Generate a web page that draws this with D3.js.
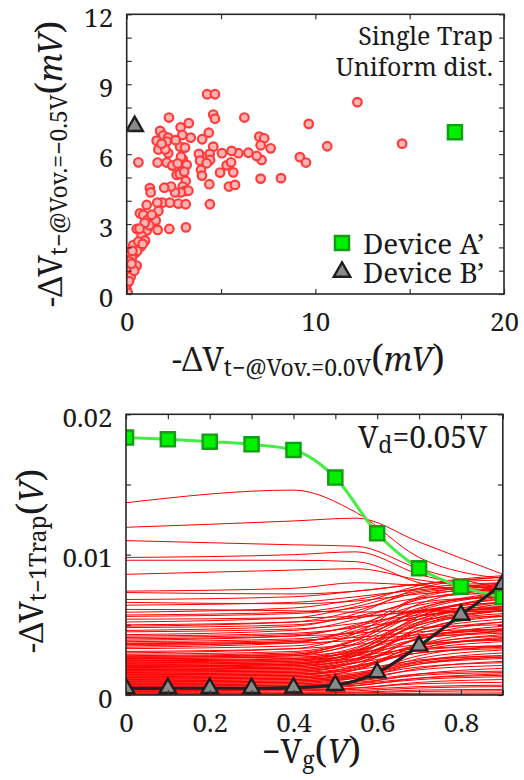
<!DOCTYPE html>
<html>
<head>
<meta charset="utf-8">
<script src="https://cdn.jsdelivr.net/npm/d3@7"></script>
<style>
html, body { margin: 0; padding: 0; background: #fff; }
svg { display: block; }
</style>
</head>
<body>
<svg id="fig" width="524" height="780"></svg>
<script>
// ---- top panel: scatter (mV) ----
const scatterX = [4.26, 4.68, 12.23, 2.24, 6.24, 4.59, 4.68, 9.65, 3.29, 2.86, 1.77, 1.94, 4.35, 4.00, 3.39, 2.95, 2.20, 2.12, 1.59, 1.68,
    2.20, 2.83, 3.09, 4.59, 7.03, 7.29, 7.10, 7.63, 10.63, 14.60, 9.18, 9.50, 7.15, 6.89, 6.45, 5.92, 5.56, 5.05, 4.40, 3.98,
    3.83, 3.89, 4.42, 4.24, 3.94, 3.99, 4.38, 4.41, 4.95, 5.30, 5.65, 5.53, 5.42, 5.74, 7.10, 8.18, 0.62, 1.64, 2.12, 2.42,
    2.65, 2.82, 2.92, 2.97, 2.88, 3.18, 3.05, 3.13, 2.97, 3.09, 3.27, 2.86, 2.56, 2.35, 1.99, 1.23, 1.27, 1.89, 2.29, 2.74,
    3.13, 1.62, 1.06, 1.68, 0.70, 0.88, 1.11, 1.41, 1.54, 0.53, 1.06, 1.64, 2.26, 3.14, 0.79, 0.97, 0.74, 0.35, 0.44, 0.27,
    0.53, 0.18, 0.09, 0.21, 0.05, 0.00, 0.05, 0.55, 0.30, 0.15, 0.62, 0.85, 1.20, 0.95, 0.40, 0.12, 0.25, 1.33, 0.68, 2.05,
    1.85, 2.60, 2.70];
const scatterY = [8.57, 8.57, 8.23, 7.57, 7.57, 7.70, 7.52, 7.30, 7.33, 7.15, 7.00, 6.80, 6.92, 6.64, 6.71, 6.82, 6.71, 6.54, 6.58, 6.20,
    6.04, 6.32, 6.28, 6.32, 6.75, 6.68, 6.38, 6.25, 6.34, 6.45, 5.87, 5.64, 5.75, 5.92, 6.06, 6.04, 6.14, 6.04, 6.01, 5.89,
    6.01, 5.72, 5.75, 5.61, 5.32, 5.08, 4.71, 3.85, 5.21, 5.52, 5.22, 5.65, 4.61, 4.68, 4.95, 4.97, 5.65, 5.64, 5.64, 5.51,
    5.11, 5.15, 5.47, 5.78, 5.89, 5.54, 5.25, 4.85, 4.61, 4.42, 4.43, 4.36, 4.36, 4.61, 4.56, 4.54, 4.36, 3.92, 3.92, 3.88,
    3.85, 3.92, 3.82, 3.56, 3.46, 3.39, 3.18, 3.25, 3.15, 2.79, 2.72, 2.75, 2.79, 2.86, 2.50, 2.29, 2.03, 2.10, 1.75, 1.53,
    1.22, 1.17, 0.96, 0.74, 0.46, 0.17, 0.06, 1.85, 1.85, 1.40, 2.25, 2.15, 2.95, 3.05, 1.00, 0.55, 1.30, 3.40, 2.80, 6.20,
    6.45, 6.60, 5.60];
const devicePointA = [17.4, 6.94];
const devicePointB = [0.42, 7.2];

// ---- bottom panel: delta Vt vs -Vg (V) ----
const vgValues = [0, 0.1, 0.2, 0.3, 0.4, 0.5, 0.6, 0.7, 0.8, 0.9];
const deviceCurveA = [0.01834, 0.01822, 0.01805, 0.01786, 0.01746, 0.01549, 0.01152, 0.00903, 0.00772, 0.00696];
const deviceCurveB = [0.00047, 0.00048, 0.00048, 0.00048, 0.00052, 0.0007, 0.0016, 0.0035, 0.0057, 0.0079];
const redGrid = [0, 0.4, 0.55, 0.7, 0.9]; // -Vg of each column below
const redCurves = [ // mV
    [13.7, 14.6, 13.0, 9.8, 8.3], [11.95, 12.4, 12.6, 10.9, 8.6], [11.0, 10.7, 10.6, 9.0, 7.6], [9.8, 10.0, 10.2, 8.6, 7.4],
    [9.6, 9.6, 9.5, 8.0, 7.0], [8.6, 8.9, 9.0, 8.2, 7.5], [7.4, 7.6, 8.0, 7.8, 7.3], [7.3, 7.2, 7.4, 7.9, 8.4],
    [6.8, 7.0, 7.4, 7.9, 8.2], [6.6, 6.5, 6.7, 7.2, 7.6], [6.4, 6.6, 7.0, 7.5, 7.9], [6.1, 6.0, 5.9, 6.0, 6.1],
    [5.9, 6.2, 6.8, 7.6, 8.0], [5.6, 5.8, 6.2, 6.9, 7.3], [5.4, 5.5, 5.6, 5.9, 6.0], [5.2, 5.5, 6.3, 7.4, 7.8],
    [5.0, 5.2, 5.5, 6.0, 6.3], [4.8, 5.0, 5.6, 6.6, 7.0], [4.5, 4.7, 5.1, 5.7, 6.0], [4.3, 4.6, 5.4, 6.8, 7.5],
    [4.2, 4.4, 4.8, 5.4, 5.6], [4.1, 4.3, 4.9, 6.0, 6.6], [4.0, 4.2, 4.4, 4.8, 5.0], [3.9, 4.2, 5.0, 6.4, 7.0],
    [3.8, 4.0, 4.5, 5.6, 6.2], [3.7, 3.9, 4.1, 4.5, 4.7], [3.65, 3.8, 4.6, 6.2, 7.2], [3.6, 3.7, 3.9, 4.3, 4.6],
    [3.3, 3.5, 4.2, 5.6, 6.2], [3.1, 3.3, 3.6, 4.1, 4.4], [4.6, 4.9, 5.8, 7.6, 8.4], [3.4, 3.7, 4.8, 7.0, 8.0],
    [3.0, 3.3, 4.4, 6.9, 7.8], [2.9, 3.1, 4.0, 6.5, 7.6], [5.7, 5.9, 6.5, 7.8, 8.5], [4.9, 5.2, 6.0, 7.3, 7.7],
    [3.5, 3.8, 4.4, 5.9, 6.6], [2.8, 3.0, 3.9, 6.1, 7.3], [2.0, 2.2, 3.1, 5.6, 7.0], [1.8, 2.0, 2.8, 5.2, 6.5],
    [2.75, 2.9, 3.6, 5.4, 6.3], [2.7, 2.8, 3.2, 4.2, 4.7], [2.65, 2.9, 3.9, 6.0, 7.1], [2.6, 2.7, 3.0, 3.6, 3.9],
    [2.55, 2.8, 3.7, 5.8, 6.8], [2.5, 2.6, 3.1, 4.6, 5.4], [2.45, 2.5, 2.8, 3.3, 3.5], [2.4, 2.6, 3.4, 5.2, 6.0],
    [2.35, 2.5, 3.3, 5.6, 6.9], [2.3, 2.4, 2.9, 4.0, 4.5], [2.25, 2.4, 3.2, 5.0, 5.8], [2.2, 2.3, 2.6, 3.2, 3.5],
    [2.15, 2.3, 3.1, 5.4, 6.6], [2.1, 2.2, 2.8, 4.4, 5.2], [2.05, 2.2, 3.0, 5.0, 6.0], [2.0, 2.1, 2.5, 3.5, 4.0],
    [1.95, 2.1, 2.9, 5.1, 6.3], [1.9, 2.0, 2.6, 4.0, 4.7], [1.85, 1.9, 2.3, 3.0, 3.3], [1.8, 1.9, 2.6, 4.6, 5.6],
    [1.75, 1.8, 2.3, 3.6, 4.2], [1.7, 1.8, 2.5, 4.8, 6.0], [1.65, 1.7, 2.1, 3.0, 3.4], [1.6, 1.7, 2.3, 4.0, 4.9],
    [1.55, 1.6, 2.0, 3.2, 3.8], [1.5, 1.6, 2.4, 4.6, 5.7], [1.45, 1.5, 1.8, 2.5, 2.8], [1.4, 1.5, 2.0, 3.5, 4.3],
    [1.35, 1.4, 1.9, 3.3, 4.0], [1.3, 1.4, 2.1, 4.1, 5.2], [1.25, 1.3, 1.6, 2.4, 2.8], [1.2, 1.3, 1.8, 3.3, 4.1],
    [1.15, 1.2, 1.5, 2.3, 2.7], [1.1, 1.2, 1.8, 3.6, 4.6], [1.05, 1.1, 1.4, 2.2, 2.6], [1.0, 1.1, 1.5, 2.8, 3.5],
    [0.95, 1.0, 1.3, 2.0, 2.3], [0.9, 1.0, 1.4, 2.6, 3.2], [0.85, 0.9, 1.2, 1.8, 2.1], [0.8, 0.9, 1.3, 2.4, 3.0],
    [0.75, 0.8, 1.0, 1.5, 1.7], [0.7, 0.8, 1.2, 2.2, 2.7], [0.65, 0.7, 0.9, 1.4, 1.6], [0.6, 0.7, 1.0, 1.9, 2.4],
    [0.55, 0.6, 0.8, 1.2, 1.4], [0.5, 0.55, 0.8, 1.5, 1.9], [0.45, 0.5, 0.7, 1.1, 1.3], [0.4, 0.45, 0.65, 1.2, 1.5],
    [0.35, 0.4, 0.5, 0.8, 0.9], [0.3, 0.35, 0.5, 0.9, 1.1], [0.25, 0.3, 0.4, 0.6, 0.7], [0.2, 0.2, 0.3, 0.5, 0.6],
    [0.15, 0.15, 0.2, 0.35, 0.4], [0.1, 0.1, 0.15, 0.25, 0.3], [0.05, 0.05, 0.08, 0.12, 0.15], [0.02, 0.02, 0.03, 0.05, 0.06]
];

// ticks
const topXTicks = [0, 5, 10, 15, 20], topXLabels = [0, 10, 20];
const topYTicks = [0, 1, 2, 3, 4, 5, 6, 7, 8, 9, 10, 11, 12], topYLabels = [0, 3, 6, 9, 12];
const botXTicks = [0, 0.1, 0.2, 0.3, 0.4, 0.5, 0.6, 0.7, 0.8, 0.9], botXLabels = [0, 0.2, 0.4, 0.6, 0.8];
const botYTicks = [0, 0.005, 0.01, 0.015, 0.02], botYLabels = [0, 0.01, 0.02];

const FONT = "Noto Serif"; // single family: font lists fall back to sans here
const INK = "#1a1a1a";
const svg = d3.select("#fig");
const GREEN = "#00f000", GREEN_EDGE = "#149c14", GREEN_LINE = "#46ec46";
const GREY = "#8a8a8a", DARK = "#1e1e1e";

const xTop = d3.scaleLinear().domain([0, 20]).range([126.7, 504]);
const yTop = d3.scaleLinear().domain([0, 12]).range([294, 14.3]);
const xBot = d3.scaleLinear().domain([0, 0.9]).range([126, 502.8]);
const yBot = d3.scaleLinear().domain([0, 0.02]).range([695, 414.3]);

function clipFor(id, x, y) {
    svg.append("clipPath").attr("id", id).append("rect")
        .attr("x", x.range()[0]).attr("y", y.range()[1])
        .attr("width", x.range()[1] - x.range()[0]).attr("height", y.range()[0] - y.range()[1]);
    return svg.append("g").attr("clip-path", `url(#${id})`);
}

function frame(x, y, xt, xl, yt, yl) {
    const [x0, x1] = x.range(), [y0, y1] = y.range();
    const g = svg.append("g");
    const style = (a) => {
        a.attr("font-size", 26).attr("color", "#333");
        a.select(".domain").remove();
        a.selectAll("line").attr("stroke-width", 1.2);
    };
    g.append("g").attr("transform", `translate(${x0},0)`)
        .call(d3.axisLeft(y).tickValues(yt).tickSizeInner(-5).tickSizeOuter(0).tickPadding(13.5)
            .tickFormat(d => yl.includes(d) ? String(d) : ""))
        .call(style)
        .selectAll("text").attr("dy", "0.47em");
    g.append("g").attr("transform", `translate(${x1},0)`)
        .call(d3.axisRight(y).tickValues(yt).tickSizeInner(-5).tickSizeOuter(0).tickFormat(""))
        .call(style);
    g.append("g").attr("transform", `translate(0,${y0})`)
        .call(d3.axisBottom(x).tickValues(xt).tickSizeInner(-5).tickSizeOuter(0).tickPadding(19)
            .tickFormat(d => xl.includes(d) ? String(d) : ""))
        .call(style);
    g.append("g").attr("transform", `translate(0,${y1})`)
        .call(d3.axisTop(x).tickValues(xt).tickSizeInner(-5).tickSizeOuter(0).tickFormat(""))
        .call(style);
    g.selectAll("text").attr("fill", INK).style("font-family", FONT);
    g.append("rect").attr("x", x0).attr("y", y1).attr("width", x1 - x0).attr("height", y0 - y1)
        .attr("fill", "none").attr("stroke", "#262626").attr("stroke-width", 1.6);
}

function label(x, y, size, str, anchor) {
    return svg.append("text").attr("x", x).attr("y", y).attr("font-size", size)
        .style("font-family", FONT).attr("fill", INK).attr("text-anchor", anchor || "start").text(str);
}

// rich text: parts = [text, size, dy, italic]
function richText(x, y, rot, parts) {
    const t = svg.append("text").attr("transform", `translate(${x},${y}) rotate(${rot})`)
        .style("font-family", FONT).attr("fill", INK);
    parts.forEach(p => {
        t.append("tspan").text(p[0]).attr("font-size", p[1]).attr("dy", p[2] || 0)
            .style("font-family", FONT).attr("font-style", p[3] ? "italic" : null);
    });
    return t;
}

const square = d3.symbol().type(d3.symbolSquare).size(200);
const triangle = d3.symbol().type(d3.symbolTriangle).size(118);

// ---------- top panel ----------
const gTop = clipFor("clipTop", xTop, yTop);
gTop.selectAll("circle").data(scatterX).join("circle")
    .attr("cx", d => xTop(d))
    .attr("cy", (d, i) => yTop(scatterY[i]))
    .attr("r", 4.3)
    .attr("fill", "#ffb3b3")
    .attr("stroke", "#ff3c3c")
    .attr("stroke-width", 2.2);
gTop.append("path").attr("d", square)
    .attr("transform", `translate(${xTop(devicePointA[0])},${yTop(devicePointA[1])})`)
    .attr("fill", GREEN).attr("stroke", GREEN_EDGE).attr("stroke-width", 2.4);
gTop.append("path").attr("d", triangle)
    .attr("transform", `translate(${xTop(devicePointB[0])},${yTop(devicePointB[1])})`)
    .attr("fill", GREY).attr("stroke", DARK).attr("stroke-width", 2.4);

frame(xTop, yTop, topXTicks, topXLabels, topYTicks, topYLabels);

label(493, 45, 25, "Single Trap", "end");
label(493, 76, 25, "Uniform dist.", "end");

// legend
svg.append("path").attr("d", square).attr("transform", "translate(342,243)")
    .attr("fill", GREEN).attr("stroke", GREEN_EDGE).attr("stroke-width", 2.4);
svg.append("path").attr("d", triangle).attr("transform", "translate(342,272)")
    .attr("fill", GREY).attr("stroke", DARK).attr("stroke-width", 2.4);
label(363, 254, 28, "Device A\u2019");
label(363, 283, 28, "Device B\u2019");

richText(172, 371, 0, [["-\u0394V", 32], ["t\u2212@Vov.=0.0V", 23, 5], ["(", 36, -5], ["mV", 32, 0, true], [")", 36]]);
richText(62, 307, -90, [["-\u0394V", 32], ["t\u2212@Vov.=\u22120.5V", 23, 5], ["(", 36, -5], ["mV", 32, 0, true], [")", 36]]);

// ---------- bottom panel ----------
const gBot = clipFor("clipBot", xBot, yBot);
const redLine = d3.line()
    .x((d, i) => xBot(redGrid[i]))
    .y(d => yBot(d / 1000))
    .curve(d3.curveMonotoneX);
gBot.append("g").selectAll("path").data(redCurves).join("path")
    .attr("d", redLine)
    .attr("fill", "none")
    .attr("stroke", "#ff0000")
    .attr("stroke-width", 1);

const devLine = d3.line().x((d, i) => xBot(vgValues[i])).y(d => yBot(d)).curve(d3.curveMonotoneX);
gBot.append("path").attr("d", devLine(deviceCurveA))
    .attr("fill", "none").attr("stroke", GREEN_LINE).attr("stroke-width", 3);
gBot.append("path").attr("d", devLine(deviceCurveB))
    .attr("fill", "none").attr("stroke", "#222").attr("stroke-width", 3.2);
gBot.selectAll(".sq").data(deviceCurveA).join("path").attr("class", "sq")
    .attr("d", square)
    .attr("transform", (d, i) => `translate(${xBot(vgValues[i])},${yBot(d)})`)
    .attr("fill", GREEN).attr("stroke", GREEN_EDGE).attr("stroke-width", 2.4);
gBot.selectAll(".tri").data(deviceCurveB).join("path").attr("class", "tri")
    .attr("d", triangle)
    .attr("transform", (d, i) => `translate(${xBot(vgValues[i])},${yBot(d)})`)
    .attr("fill", GREY).attr("stroke", DARK).attr("stroke-width", 2.4);

frame(xBot, yBot, botXTicks, botXLabels, botYTicks, botYLabels);

richText(358, 448, 0, [["V", 30], ["d", 23, 5], ["=0.05V", 30, -5]]);
richText(43, 653, -90, [["-\u0394V", 32], ["t\u22121Trap", 23, 3], ["(", 36, -3], ["V", 32, 0, true], [")", 36]]);
richText(262, 763, 0, [["\u2212V", 32], ["g", 23, 5], ["(", 36, -5], ["V", 32, 0, true], [")", 36]]);
</script>
</body>
</html>
